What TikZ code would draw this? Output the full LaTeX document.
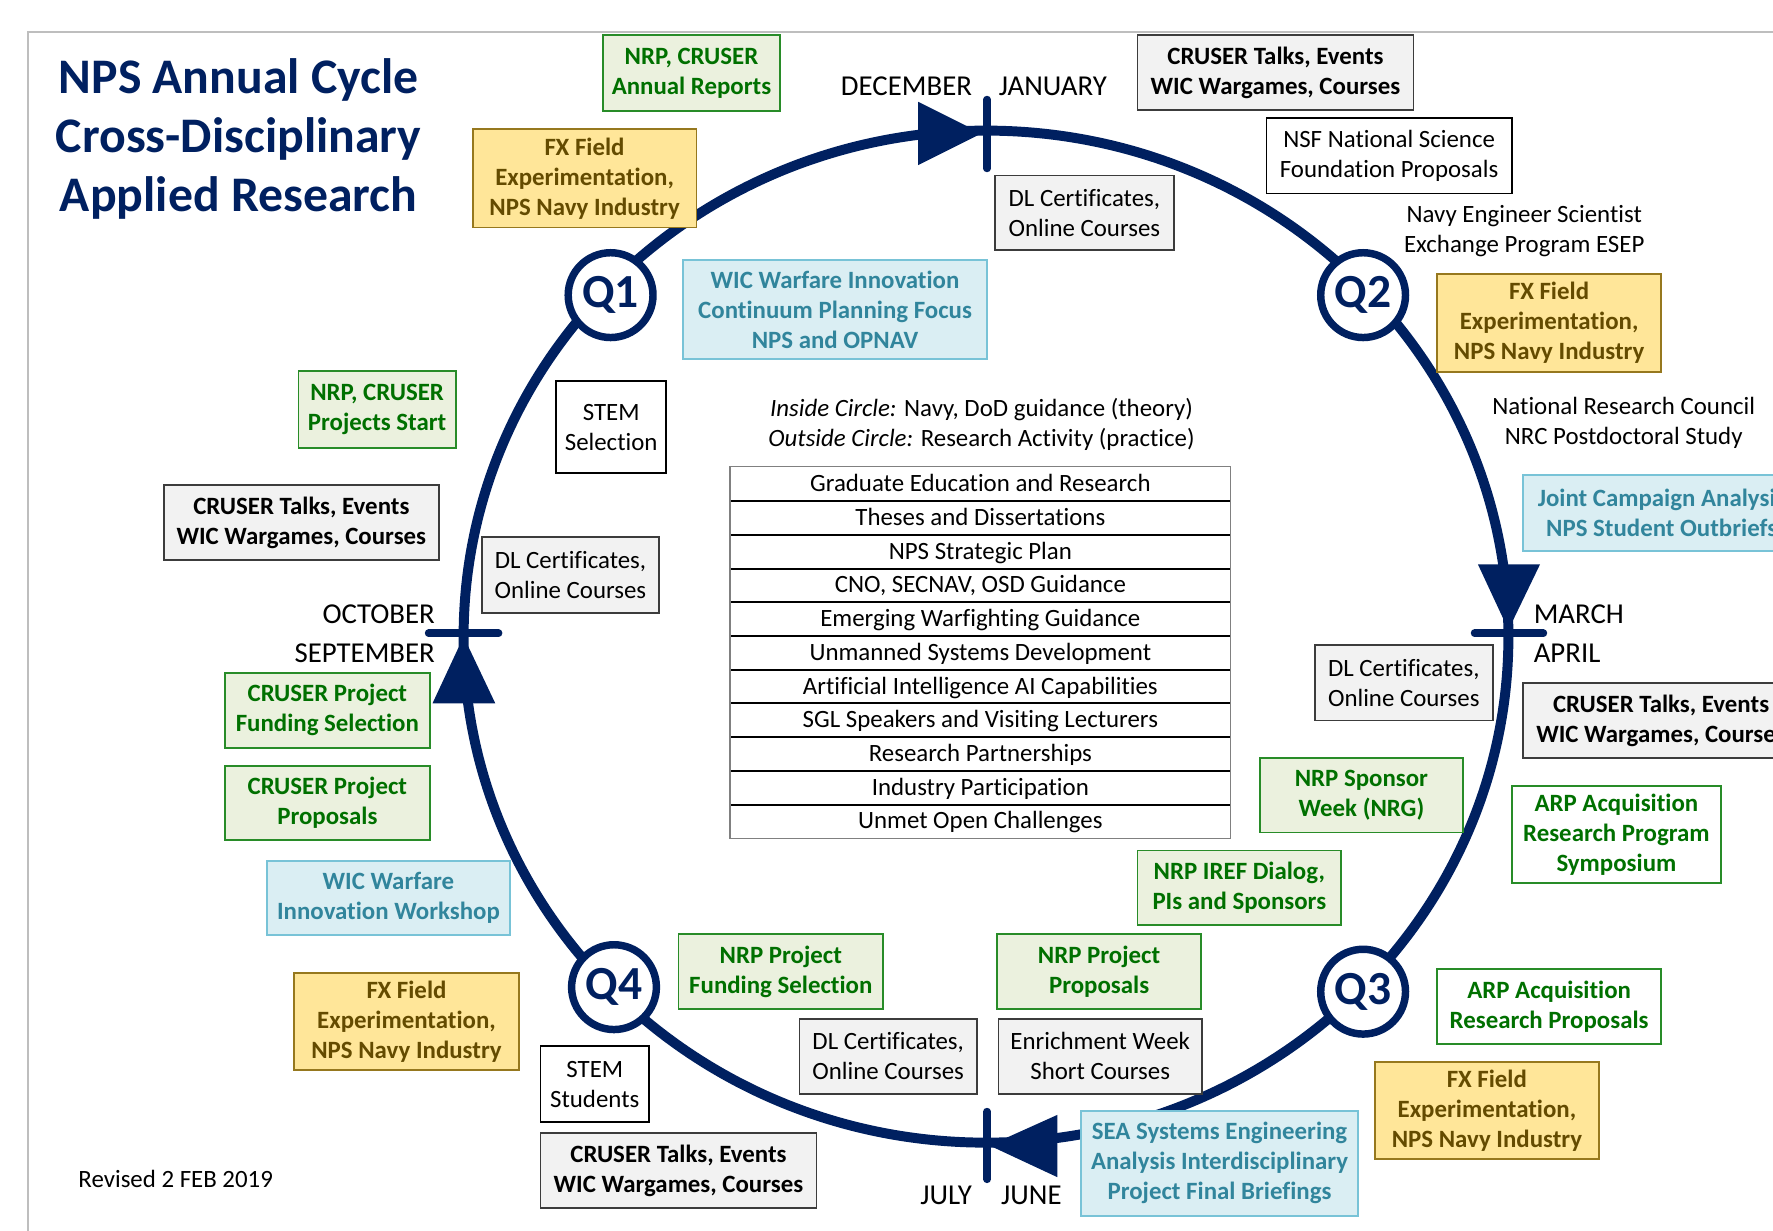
\documentclass[tikz,border=0pt]{standalone}
\usepackage{fontspec}
\setmainfont{Carlito}[Ligatures=NoCommon]
\definecolor{navy}{RGB}{0,32,96}
\definecolor{gfill}{RGB}{235,241,222}
\definecolor{gline}{RGB}{40,140,40}
\definecolor{gtext}{RGB}{0,112,0}
\definecolor{yfill}{RGB}{255,230,153}
\definecolor{yline}{RGB}{150,120,30}
\definecolor{ytext}{RGB}{100,75,0}
\definecolor{cfill}{RGB}{218,238,243}
\definecolor{cline}{RGB}{120,195,215}
\definecolor{ctext}{RGB}{49,133,156}
\definecolor{kfill}{RGB}{242,242,242}
\definecolor{kline}{RGB}{60,60,60}
\definecolor{framec}{RGB}{190,190,190}
\begin{document}
\begin{tikzpicture}[x=0.5pt,y=-0.5pt,
 every node/.style={inner sep=0pt, align=center},
 rtx/.style={font=\fontsize{11}{13.25}\selectfont},
 btx/.style={font=\fontsize{11}{13.25}\selectfont\bfseries},
 wh/.style 2 args={minimum width=#1pt, minimum height=#2pt},
 gbox/.style={btx, draw=gline, fill=gfill, text=gtext, line width=0.8pt},
 gwbox/.style={btx, draw=gline, fill=white, text=gtext, line width=0.8pt},
 ybox/.style={btx, draw=yline, fill=yfill, text=ytext, line width=0.8pt},
 cbox/.style={btx, draw=cline, fill=cfill, text=ctext, line width=0.8pt},
 kbox/.style={btx, draw=kline, fill=kfill, text=black, line width=0.8pt},
 dbox/.style={rtx, draw=kline, fill=kfill, text=black, line width=0.8pt},
 wbox/.style={rtx, draw=black, fill=white, line width=0.8pt},
 mon/.style={font=\fontsize{12.75}{15}\selectfont},
 qnode/.style={circle, draw=navy, line width=3.3pt, fill=white, minimum size=37.5pt, text=navy, font=\fontsize{21}{21}\selectfont\bfseries},
 cyc/.style={draw=navy, line width=4.4pt},
 mtick/.style={draw=navy, line width=3.3pt, line cap=round},
 rowtx/.style={rtx, text height=9pt, text depth=2pt, minimum width=221pt, minimum height=14.9pt},
]
\useasboundingbox (0,0) rectangle (1568,1088);
\clip (0,0) rectangle (1568,1088);
% frame
\draw[framec, line width=1pt] (25,1100) -- (25,28) -- (1600,28);
% title
\node[text=navy, font=\fontsize{22}{26.25}\selectfont\bfseries] (title) at (211,123) {NPS Annual Cycle\\Cross-Disciplinary\\Applied Research};
% cycle
\coordinate (ctr) at (872,563);
\draw[cyc] (ctr) ellipse [x radius=462, y radius=447.5];
\fill[navy] (812,90) -- (868,118) -- (812,146) -- cycle;
\fill[navy] (1307,499) -- (1334,557) -- (1362,499) -- cycle;
\fill[navy] (382.5,622) -- (410,563) -- (438,622) -- cycle;
\fill[navy] (935,986) -- (875,1013) -- (935,1041) -- cycle;
\draw[mtick] (873,88) -- (873,149);
\draw[mtick] (1304,560) -- (1365,560);
\draw[mtick] (379,560) -- (441,560);
\draw[mtick] (873,983) -- (873,1043);
% quarter markers
\node[qnode] (q1) at (540,261) {Q1};
\node[qnode] (q2) at (1205.5,261) {Q2};
\node[qnode] (q3) at (1205.5,877) {Q3};
\node[qnode] (q4) at (543,873) {Q4};
% months
\node[mon, anchor=east] (dec) at (860,76) {DECEMBER};
\node[mon, anchor=west] (jan) at (883,76) {JANUARY};
\node[mon, anchor=east] (oct) at (385,543) {OCTOBER};
\node[mon, anchor=east] (sep) at (385,578) {SEPTEMBER};
\node[mon, anchor=west] (mar) at (1356,543) {MARCH};
\node[mon, anchor=west] (apr) at (1356,578) {APRIL};
\node[mon, anchor=east] (jul) at (860,1057) {JULY};
\node[mon, anchor=west] (jun) at (885,1057) {JUNE};
% boxes
\begin{scope}[every node/.append style={yshift=-0.6pt}]
\node[gbox, wh={78.5}{33.5}] (ar) at (611.5,63.5) {NRP, CRUSER\\Annual Reports};
\node[ybox, wh={99}{43.5}] (fx1) at (517,156.5) {FX Field\\Experimentation,\\NPS Navy Industry};
\node[kbox, wh={122}{33}] (ct1) at (1128,63) {CRUSER Talks, Events\\WIC Wargames, Courses};
\node[wbox, wh={108.5}{33.5}] (nsf) at (1228.5,136.5) {NSF National Science\\Foundation Proposals};
\node[rtx] (esep) at (1348,203.5) {Navy Engineer Scientist\\Exchange Program ESEP};
\node[dbox, wh={79}{33}] (dl1) at (959,187) {DL Certificates,\\Online Courses};
\node[cbox, wh={134.5}{43.5}] (wic1) at (738.5,272.5) {WIC Warfare Innovation\\Continuum Planning Focus\\NPS and OPNAV};
\node[gbox, wh={69.5}{34}] (ps) at (333.5,361) {NRP, CRUSER\\Projects Start};
\node[wbox, wh={48.5}{40.5}] (stem1) at (540.5,376.5) {STEM\\Selection};
\node[kbox, wh={121.5}{33}] (ct2) at (266.5,461) {CRUSER Talks, Events\\WIC Wargames, Courses};
\node[dbox, wh={78.5}{33.5}] (dl2) at (504.5,507.5) {DL Certificates,\\Online Courses};
\node[gbox, wh={90.5}{33}] (cfs) at (289.5,627) {CRUSER Project\\Funding Selection};
\node[gbox, wh={90.5}{33}] (cpp) at (289.5,709) {CRUSER Project\\Proposals};
\node[cbox, wh={107.5}{33}] (wic2) at (343.5,793) {WIC Warfare\\Innovation Workshop};
\node[ybox, wh={99.5}{43}] (fx4) at (359.5,902) {FX Field\\Experimentation,\\NPS Navy Industry};
\node[gbox, wh={90.5}{33}] (nfs) at (690.5,858) {NRP Project\\Funding Selection};
\node[wbox, wh={48}{33.5}] (stem2) at (526,957.5) {STEM\\Students};
\node[dbox, wh={78.5}{33}] (dl3) at (785.5,933) {DL Certificates,\\Online Courses};
\node[kbox, wh={122}{33}] (ct3) at (600,1034) {CRUSER Talks, Events\\WIC Wargames, Courses};
\node[gbox, wh={90}{33}] (npp) at (972,858) {NRP Project\\Proposals};
\node[dbox, wh={90}{33}] (ew) at (973,933) {Enrichment Week\\Short Courses};
\node[cbox, wh={122.5}{46.5}] (sea) at (1078.5,1027.5) {SEA Systems Engineering\\Analysis Interdisciplinary\\Project Final Briefings};
\node[gbox, wh={90}{33}] (iref) at (1096,784) {NRP IREF Dialog,\\PIs and Sponsors};
\node[gbox, wh={90}{33}] (nsw) at (1204,702) {NRP Sponsor\\Week (NRG)};
\node[dbox, wh={78.5}{33.5}] (dl4) at (1241.5,602.5) {DL Certificates,\\Online Courses};
\node[kbox, wh={122}{33}] (ct4) at (1469,636) {CRUSER Talks, Events\\WIC Wargames, Courses};
\node[gwbox, wh={92.5}{43}] (arps) at (1429.5,737) {ARP Acquisition\\Research Program\\Symposium};
\node[gwbox, wh={99}{33}] (arpp) at (1370,889) {ARP Acquisition\\Research Proposals};
\node[ybox, wh={99}{43}] (fx3) at (1315,981) {FX Field\\Experimentation,\\NPS Navy Industry};
\node[cbox, wh={122.5}{33.5}] (jca) at (1469.5,452.5) {Joint Campaign Analysis\\NPS Student Outbriefs};
\node[rtx] (nrc) at (1436,373) {National Research Council\\NRC Postdoctoral Study};
\node[ybox, wh={99}{43.5}] (fx2) at (1370,284.5) {FX Field\\Experimentation,\\NPS Navy Industry};
% centre guidance
\node[rtx] (guide) at (868,374.5) {\textit{Inside Circle:} Navy, DoD guidance (theory)\\\textit{Outside Circle:} Research Activity (practice)};
\end{scope}
\node[rtx, anchor=west] (rev) at (69,1043) {Revised 2 FEB 2019};
\foreach \i/\t in {1/Graduate Education and Research, 2/Theses and Dissertations, 3/NPS Strategic Plan, 4/{CNO, SECNAV, OSD Guidance}, 5/Emerging Warfighting Guidance, 6/Unmanned Systems Development, 7/Artificial Intelligence AI Capabilities, 8/SGL Speakers and Visiting Lecturers, 9/Research Partnerships, 10/Industry Participation, 11/Unmet Open Challenges}
  \node[rowtx] (row\i) at (867,{413+29.82*(\i-0.5)}) {\t};
\foreach \i in {1,...,10}
  \draw[black, line width=0.9pt] (row\i.south west) -- (row\i.south east);
\draw[gray, line width=0.6pt] (row1.north west) rectangle (row11.south east);
\end{tikzpicture}
\end{document}
